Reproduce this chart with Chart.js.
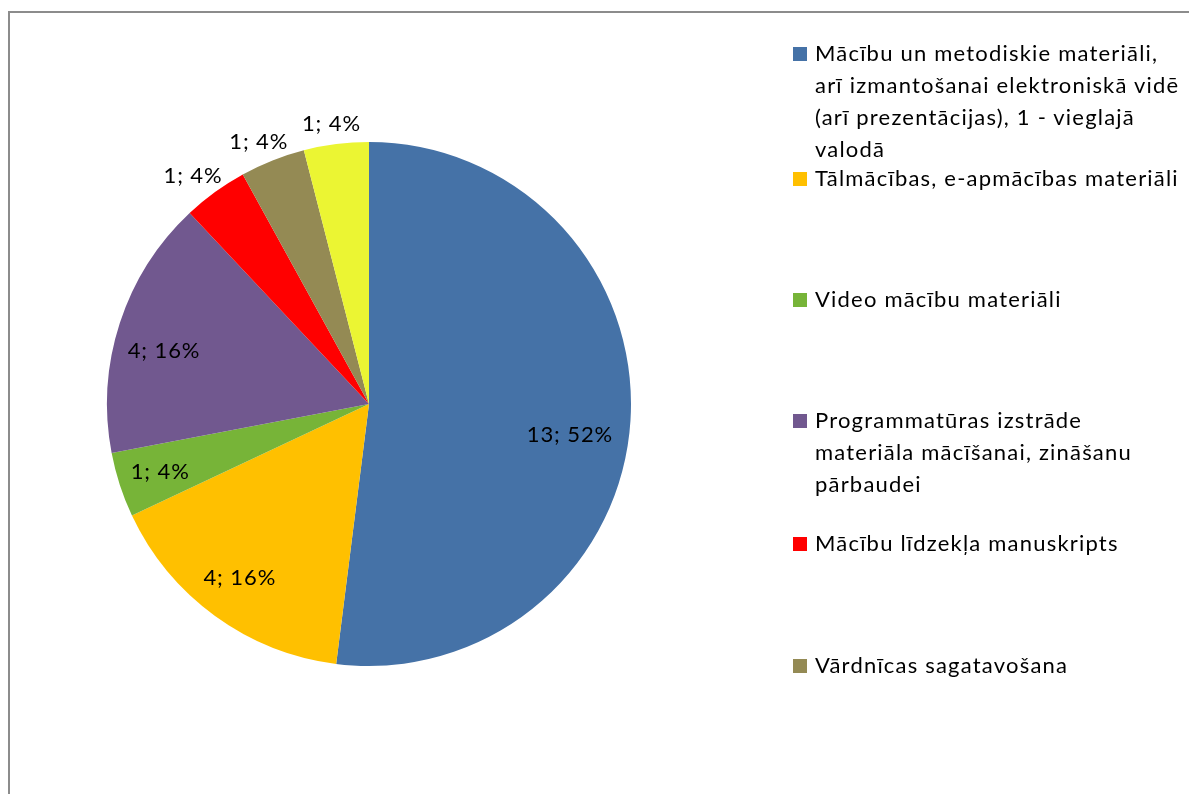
<!DOCTYPE html>
<html>
<head>
<meta charset="utf-8">
<script src="https://cdn.jsdelivr.net/npm/chart.js@4"></script>
<style>
  html, body { margin: 0; padding: 0; background: #fff; overflow: hidden; }
  #wrap { position: relative; width: 1189px; height: 794px; }
  #frame { position: absolute; left: 8px; top: 11px; width: 1400px; height: 1000px; border: 2px solid #8c8c8c; box-sizing: border-box; }
  #pie { position: absolute; left: 0; top: 0; }
  #legend { position: absolute; left: 0; top: 0; font-family: Lato, "Open Sans", sans-serif; font-size: 22px; letter-spacing: 1.2px; color: #000; }
  .item { position: absolute; left: 793px; width: 396px; line-height: 32px; }
  .item .box { position: absolute; left: 0; top: 10px; width: 14px; height: 14px; }
  .item .txt { position: absolute; left: 22px; white-space: nowrap; }
</style>
</head>
<body>
<div id="wrap">
  <div id="frame"></div>
  <canvas id="pie" width="1189" height="794"></canvas>
  <div id="legend"></div>
</div>
<script>
// data
const categories = [
  'Mācību un metodiskie materiāli,\narī izmantošanai elektroniskā vidē\n(arī prezentācijas), 1 - vieglajā\nvalodā',
  'Tālmācības, e-apmācības materiāli',
  'Video mācību materiāli',
  'Programmatūras izstrāde\nmateriāla mācīšanai, zināšanu\npārbaudei',
  'Mācību līdzekļa manuskripts',
  'Vārdnīcas sagatavošana',
  'Cits'
];
const counts = [13, 4, 1, 4, 1, 1, 1];
const percents = [52, 16, 4, 16, 4, 4, 4];

// styles
const colors = ['#4572a7', '#ffc000', '#77b438', '#71588f', '#ff0000', '#948a54', '#ebf533'];
// label placement: inside slices at a fraction of the radius (with a small angle nudge, degrees), or outside
const labelInside = [true, true, true, true, false, false, false];
const labelRadius = [0.776, 0.827, 0.838, 0.808, 1.03, 1.03, 1.03];
const labelNudge = [5.2, 0.6, 0, -3.5, 0, 0, 0];
const legendTops = [37, 162, 283, 404, 527, 649];

const valueLabels = {
  id: 'valueLabels',
  afterDatasetsDraw(chart) {
    const ctx = chart.ctx;
    const meta = chart.getDatasetMeta(0);
    ctx.save();
    ctx.font = '22px Lato, "Open Sans", sans-serif';
    ctx.letterSpacing = '0.9px';
    ctx.fillStyle = '#000';
    ctx.textAlign = 'center';
    ctx.textBaseline = 'middle';
    meta.data.forEach((arc, i) => {
      const text = counts[i] + '; ' + percents[i] + '%';
      const mid = (arc.startAngle + arc.endAngle) / 2 + labelNudge[i] * Math.PI / 180;
      const r = arc.outerRadius * labelRadius[i];
      let x = arc.x + Math.cos(mid) * r;
      let y = arc.y + Math.sin(mid) * r;
      if (!labelInside[i]) {
        const w = ctx.measureText(text).width;
        x += Math.cos(mid) * w / 2;
        y += Math.sin(mid) * 12;
      }
      ctx.fillText(text, x, y);
    });
    ctx.restore();
  }
};

const ctx = document.getElementById('pie').getContext('2d');
const pieChart = new Chart(ctx, {
  type: 'pie',
  data: {
    labels: categories,
    datasets: [{
      data: counts,
      backgroundColor: colors,
      borderWidth: 0
    }]
  },
  options: {
    responsive: false,
    animation: false,
    layout: { padding: { left: 107, right: 558, top: 142, bottom: 128 } },
    plugins: {
      legend: { display: false },
      tooltip: { enabled: false }
    }
  },
  plugins: [valueLabels]
});

// legend (the last entry is cut off in the original)
const legend = document.getElementById('legend');
legendTops.forEach((top, i) => {
  const item = document.createElement('div');
  item.className = 'item';
  item.style.top = top + 'px';
  const box = document.createElement('div');
  box.className = 'box';
  box.style.background = colors[i];
  const txt = document.createElement('div');
  txt.className = 'txt';
  txt.innerHTML = categories[i].split('\n').join('<br>');
  item.appendChild(box);
  item.appendChild(txt);
  legend.appendChild(item);
});
</script>
</body>
</html>
